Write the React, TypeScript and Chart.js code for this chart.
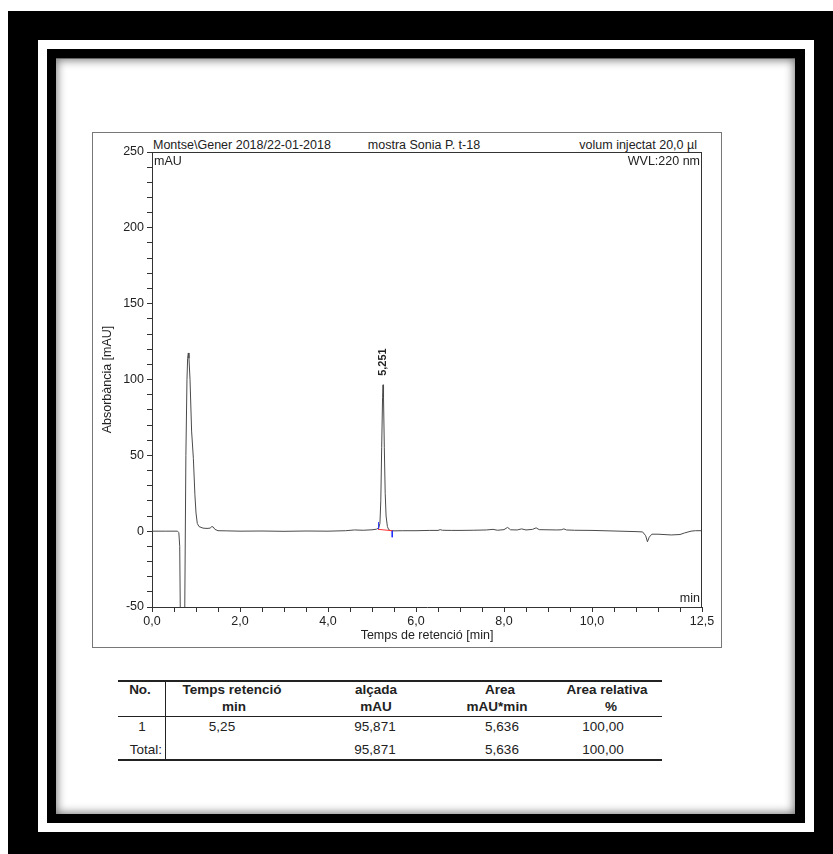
import React, { useEffect, useRef } from 'react';
import { Chart, registerables } from 'chart.js';

Chart.register(...registerables);

const FONT = "'Liberation Sans', Arial, Helvetica, sans-serif";

// Chromatogram trace (retention time in min, absorbance in mAU)
const TIME_MIN = [
  0, 0.3, 0.58, 0.61, 0.63, 0.645, 0.73, 0.745, 0.77, 0.795, 0.81, 0.825, 0.84, 0.864, 0.9, 0.94, 0.975, 1.0,
  1.03, 1.07, 1.16, 1.25, 1.32, 1.36, 1.39, 1.43, 1.5, 1.7, 2.0, 2.5, 3.0, 3.5, 4.0, 4.4, 4.6, 4.8, 5.0, 5.1,
  5.15, 5.18, 5.2, 5.22, 5.24, 5.251, 5.262, 5.28, 5.3, 5.32, 5.35, 5.38, 5.42, 5.5, 5.7, 6.0, 6.3, 6.5, 6.55,
  6.6, 6.8, 7.0, 7.3, 7.6, 7.75, 7.85, 8.0, 8.08, 8.15, 8.3, 8.4, 8.5, 8.65, 8.73, 8.8, 9.0, 9.2, 9.3, 9.36,
  9.42, 9.6, 10.0, 10.5, 11.0, 11.15, 11.22, 11.26, 11.3, 11.36, 11.5, 11.8, 12.0, 12.1, 12.25, 12.35, 12.5,
];
const ABSORBANCE_MAU = [
  0, 0, 0, -1, -10, -60, -60, -50, 50, 100, 114, 117.5, 114, 100, 66, 48, 24, 12,
  5, 3, 2, 1.8, 2, 3, 2.8, 1.2, 0.3, 0.2, 0, 0.1, -0.1, 0.1, 0, 0.3, 0.8, 0.6, 0.9, 1.3,
  2, 5, 20, 55, 88, 96.5, 88, 55, 25, 10, 3, 1, 0.4, 0.2, 0.3, 0.3, 0.5, 0.5, 1,
  0.6, 0.5, 0.5, 0.6, 0.8, 1.2, 0.6, 1, 2.5, 0.9, 0.8, 1.5, 0.8, 1.2, 2.2, 1, 0.9, 0.8, 0.9, 1.5,
  0.8, 0.6, 0.5, 0.1, -0.3, -0.5, -3, -7, -4, -2, -2, -2.5, -2.2, -1.2, 0, 0.3, 0.3,
];

// Integration marks of the peak
const BASELINE_T = [5.14, 5.46];
const BASELINE_Y = [1.2, 0.3];
const START_MARK_T = [5.15, 5.15];
const START_MARK_Y = [1.0, 6.0];
const END_MARK_T = [5.46, 5.46];
const END_MARK_Y = [0.3, -4];

const PEAK_LABEL = '5,251';
const PEAK_LABEL_TIME = 5.251;
const PEAK_LABEL_VALUE = 96.5;

const X_LABEL_VALUES = [0, 2, 4, 6, 8, 10, 12.5];
const Y_LABEL_VALUES = [-50, 0, 50, 100, 150, 200, 250];

// Peak table
const TABLE_NO = ['1'];
const TABLE_RT = ['5,25'];
const TABLE_HEIGHT = ['95,871'];
const TABLE_AREA = ['5,636'];
const TABLE_REL = ['100,00'];
const TOTAL_HEIGHT = '95,871';
const TOTAL_AREA = '5,636';
const TOTAL_REL = '100,00';

const pts = (t: number[], y: number[]) => t.map((v, i) => ({ x: v, y: y[i] }));

const framePlugin = {
  id: 'frameAndLabels',
  afterDraw(chart: any) {
    const { ctx, chartArea: a, scales } = chart;
    ctx.save();
    ctx.strokeStyle = '#333';
    ctx.lineWidth = 1;
    ctx.beginPath();
    ctx.moveTo(a.left, Math.round(a.top) + 0.5);
    ctx.lineTo(a.right, Math.round(a.top) + 0.5);
    ctx.moveTo(Math.round(a.right) - 0.5, a.top);
    ctx.lineTo(Math.round(a.right) - 0.5, a.bottom);
    ctx.stroke();

    ctx.fillStyle = '#222';
    ctx.font = `12.5px ${FONT}`;
    ctx.textBaseline = 'middle';
    ctx.textAlign = 'left';
    ctx.fillText('mAU', a.left + 2, a.top + 10);
    ctx.textAlign = 'right';
    ctx.fillText('WVL:220 nm', a.right - 2, a.top + 10);
    ctx.fillText('min', a.right - 2, a.bottom - 8);

    const x = scales.x.getPixelForValue(PEAK_LABEL_TIME);
    const y = scales.y.getPixelForValue(PEAK_LABEL_VALUE) - 9;
    ctx.translate(x, y);
    ctx.rotate(-Math.PI / 2);
    ctx.font = `bold 11px ${FONT}`;
    ctx.textAlign = 'left';
    ctx.textBaseline = 'middle';
    ctx.fillText(PEAK_LABEL, 0, 0);
    ctx.restore();
  },
};

function ChromChart() {
  const ref = useRef<HTMLCanvasElement>(null);
  useEffect(() => {
    if (!ref.current) return;
    const tickFont = { family: FONT, size: 12.5 };
    const chart = new Chart(ref.current, {
      type: 'line',
      data: {
        datasets: [
          { data: pts(BASELINE_T, BASELINE_Y), borderColor: '#ff3030', borderWidth: 1, pointRadius: 0 },
          { data: pts(START_MARK_T, START_MARK_Y), borderColor: '#2030ff', borderWidth: 1, pointRadius: 0 },
          { data: pts(END_MARK_T, END_MARK_Y), borderColor: '#2030ff', borderWidth: 1, pointRadius: 0 },
          {
            data: pts(TIME_MIN, ABSORBANCE_MAU),
            borderColor: '#4a4a4a',
            borderWidth: 1,
            pointRadius: 0,
            tension: 0,
          },
        ],
      },
      options: {
        animation: false,
        responsive: false,
        maintainAspectRatio: false,
        layout: { padding: { left: 0, top: 20, right: 20, bottom: 0 } },
        plugins: { legend: { display: false }, tooltip: { enabled: false } },
        scales: {
          x: {
            type: 'linear',
            min: 0,
            max: 12.5,
            afterFit: (s: any) => {
              s.height = 41;
            },
            ticks: {
              stepSize: 0.5,
              autoSkip: false,
              maxRotation: 0,
              padding: 2,
              color: '#222',
              font: tickFont,
              callback: (v: any) =>
                X_LABEL_VALUES.includes(Number(v)) ? Number(v).toFixed(1).replace('.', ',') : '',
            },
            grid: { drawOnChartArea: false, drawTicks: true, tickLength: 5, color: '#333' },
            border: { display: true, color: '#333', width: 1 },
            title: {
              display: true,
              text: 'Temps de retenció [min]',
              color: '#222',
              font: tickFont,
              padding: { top: 0, bottom: 5 },
            },
          },
          y: {
            type: 'linear',
            min: -50,
            max: 250,
            afterFit: (s: any) => {
              s.width = 60;
            },
            ticks: {
              stepSize: 10,
              autoSkip: false,
              padding: 3,
              color: '#222',
              font: tickFont,
              callback: (v: any) => (Y_LABEL_VALUES.includes(Number(v)) ? String(v) : ''),
            },
            grid: { drawOnChartArea: false, drawTicks: true, tickLength: 5, color: '#333' },
            border: { display: true, color: '#333', width: 1 },
            title: {
              display: true,
              text: 'Absorbància [mAU]',
              color: '#222',
              font: tickFont,
              padding: { top: 8, bottom: 0 },
            },
          },
        },
      },
      plugins: [framePlugin],
    } as any);
    return () => chart.destroy();
  }, []);
  return (
    <canvas
      ref={ref}
      width={630}
      height={516}
      style={{ position: 'absolute', left: 92, top: 132, width: 630, height: 516 }}
    />
  );
}

function Txt(props: { x: number; y: number; t: string; bold?: boolean; align?: 'left' | 'center' | 'right'; size?: number }) {
  const { x, y, t, bold, align = 'center', size = 13.5 } = props;
  const tx = align === 'center' ? '-50%' : align === 'right' ? '-100%' : '0';
  return (
    <div
      style={{
        position: 'absolute',
        left: x,
        top: y - 8,
        lineHeight: '16px',
        fontSize: size,
        fontWeight: bold ? 'bold' : 'normal',
        transform: `translateX(${tx})`,
        whiteSpace: 'nowrap',
        color: '#222',
      }}
    >
      {t}
    </div>
  );
}

function Line(props: { x: number; y: number; w: number; h: number }) {
  return (
    <div style={{ position: 'absolute', left: props.x, top: props.y, width: props.w, height: props.h, background: '#222' }} />
  );
}

export default function App() {
  return (
    <div
      style={{
        position: 'fixed',
        left: 0,
        top: 0,
        width: 833,
        height: 854,
        background: '#fff',
        overflow: 'hidden',
        fontFamily: FONT,
      }}
    >
      <div style={{ position: 'absolute', left: 8, top: 11, width: 825, height: 843, background: '#000' }} />
      <div style={{ position: 'absolute', left: 38, top: 40, width: 776, height: 792, background: '#fff' }} />
      <div style={{ position: 'absolute', left: 47, top: 49, width: 758, height: 774, background: '#000' }} />
      <div
        style={{
          position: 'absolute',
          left: 56,
          top: 58,
          width: 739,
          height: 756,
          background: '#fff',
          borderTop: '1px solid #666',
          boxSizing: 'border-box',
          boxShadow: 'inset 0 0 10px 1px rgba(0,0,0,0.55)',
        }}
      />
      {/* chart box */}
      <div
        style={{
          position: 'absolute',
          left: 92,
          top: 132,
          width: 630,
          height: 516,
          border: '1px solid #777',
          boxSizing: 'border-box',
        }}
      />
      <Txt x={153} y={145} t={'Montse\\Gener 2018/22-01-2018'} align="left" size={12.5} />
      <Txt x={424} y={145} t={'mostra Sonia P. t-18'} size={12.5} />
      <Txt x={697} y={145} t={'volum injectat 20,0 µl'} align="right" size={12.5} />
      <ChromChart />

      {/* peak table */}
      <Line x={118} y={680} w={544} h={2} />
      <Line x={118} y={716} w={544} h={1} />
      <Line x={118} y={759} w={544} h={2} />
      <Line x={165} y={680} w={1} h={81} />

      <Txt x={140} y={690} t="No." bold />
      <Txt x={232} y={690} t="Temps retenció" bold />
      <Txt x={376} y={690} t="alçada" bold />
      <Txt x={500} y={690} t="Area" bold />
      <Txt x={607} y={690} t="Area relativa" bold />
      <Txt x={234} y={707} t="min" bold />
      <Txt x={376} y={707} t="mAU" bold />
      <Txt x={497} y={707} t="mAU*min" bold />
      <Txt x={611} y={707} t="%" bold />

      {TABLE_NO.map((n, i) => (
        <React.Fragment key={n}>
          <Txt x={142} y={727 + i * 23} t={n} />
          <Txt x={222} y={727 + i * 23} t={TABLE_RT[i]} />
          <Txt x={375} y={727 + i * 23} t={TABLE_HEIGHT[i]} />
          <Txt x={502} y={727 + i * 23} t={TABLE_AREA[i]} />
          <Txt x={603} y={727 + i * 23} t={TABLE_REL[i]} />
        </React.Fragment>
      ))}
      <Txt x={162} y={750} t="Total:" align="right" />
      <Txt x={375} y={750} t={TOTAL_HEIGHT} />
      <Txt x={502} y={750} t={TOTAL_AREA} />
      <Txt x={603} y={750} t={TOTAL_REL} />
    </div>
  );
}
